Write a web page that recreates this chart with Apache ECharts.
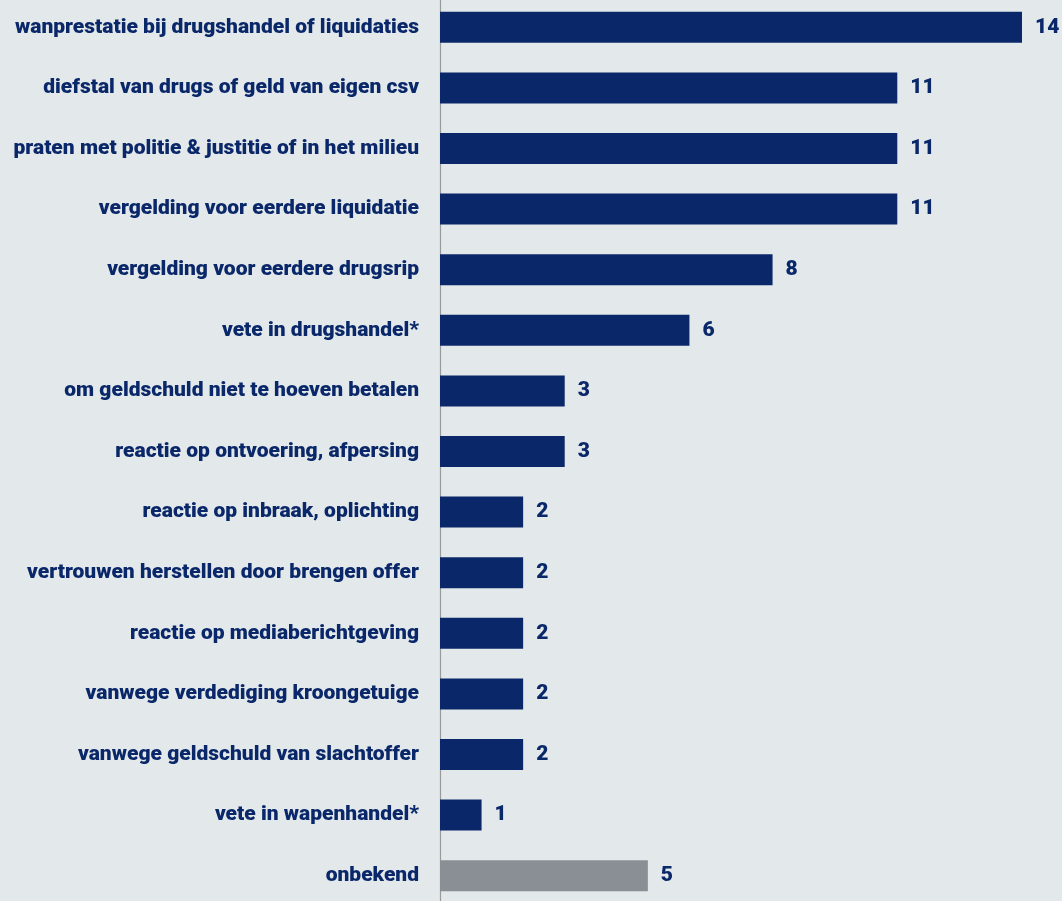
<!DOCTYPE html>
<html>
<head>
<meta charset="utf-8">
<script src="https://cdn.jsdelivr.net/npm/echarts@6/dist/echarts.min.js"></script>
<style>
html,body{margin:0;padding:0;background:#e3e9ea;}
#c{width:1062px;height:901px;}
</style>
</head>
<body>
<div id="c"></div>
<script>
const categories = [
  "wanprestatie bij drugshandel of liquidaties",
  "diefstal van drugs of geld van eigen csv",
  "praten met politie & justitie of in het milieu",
  "vergelding voor eerdere liquidatie",
  "vergelding voor eerdere drugsrip",
  "vete in drugshandel*",
  "om geldschuld niet te hoeven betalen",
  "reactie op ontvoering, afpersing",
  "reactie op inbraak, oplichting",
  "vertrouwen herstellen door brengen offer",
  "reactie op mediaberichtgeving",
  "vanwege verdediging kroongetuige",
  "vanwege geldschuld van slachtoffer",
  "vete in wapenhandel*",
  "onbekend"
];
const values = [14, 11, 11, 11, 8, 6, 3, 3, 2, 2, 2, 2, 2, 1, 5];
const greyCategories = ["onbekend"];

const navy = '#0a276a';
const grey = '#898f94';

const chart = echarts.init(document.getElementById('c'));
chart.setOption({
  backgroundColor: '#e3e9ea',
  animation: false,
  grid: { left: 440, top: -3, width: 582, height: 909, containLabel: false, outerBoundsMode: 'none' },
  xAxis: {
    type: 'value', min: 0, max: 14, show: false
  },
  yAxis: {
    type: 'category',
    data: categories,
    inverse: true,
    axisLine: { show: true, lineStyle: { color: '#9a9a9a', width: 1.2 } },
    axisTick: { show: false },
    axisLabel: {
      margin: 21,
      color: navy,
      fontFamily: 'Roboto',
      fontWeight: 900,
      fontSize: 21
    }
  },
  series: [{
    type: 'bar',
    barWidth: 31,
    data: values.map((v, i) => ({
      value: v,
      itemStyle: { color: greyCategories.includes(categories[i]) ? grey : navy }
    })),
    label: {
      show: true,
      position: 'right',
      distance: 13,
      color: navy,
      fontFamily: 'Roboto',
      fontWeight: 900,
      fontSize: 21
    }
  }]
});
</script>
</body>
</html>
